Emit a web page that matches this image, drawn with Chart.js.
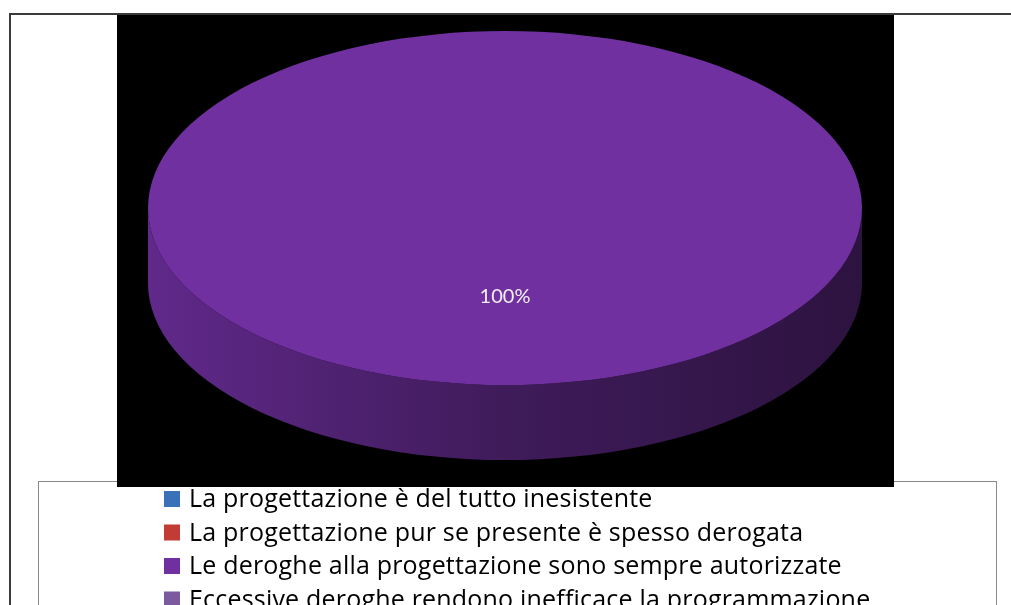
<!DOCTYPE html>
<html>
<head>
<meta charset="utf-8">
<script src="https://cdn.jsdelivr.net/npm/chart.js@4.4.0/dist/chart.umd.min.js"></script>
<style>
    html, body { margin: 0; padding: 0; background: #fff; overflow: hidden; }
    #wrap { width: 1011px; height: 605px; overflow: hidden; }
</style>
</head>
<body>
<div id="wrap"><canvas id="pieChart" width="1011" height="760"></canvas></div>
<script>
        const categories = [
            'La progettazione è del tutto inesistente',
            'La progettazione pur se presente è spesso derogata',
            'Le deroghe alla progettazione sono sempre autorizzate',
            'Eccessive deroghe rendono inefficace la programmazione'
        ];
        const percentages = [0, 0, 100, 0];
        const valueLabels = percentages.map(v => v + '%');
        const sliceColors = ['#3a72ba', '#c23b35', '#7030a0', '#7b5aa0'];

        // look of the tilted disc
        const tilt = 177 / 357;   // vertical squash of the top face
        const depth = 75;         // thickness of the side wall

        function shade(hex, f) {
            const n = parseInt(hex.slice(1), 16);
            const r = Math.round(((n >> 16) & 255) * f);
            const g = Math.round(((n >> 8) & 255) * f);
            const b = Math.round((n & 255) * f);
            return `rgb(${r}, ${g}, ${b})`;
        }

        // white page, outer frame, legend box and the black plot area
        const framePlugin = {
            id: 'frame',
            beforeDraw(chart) {
                const ctx = chart.ctx;
                ctx.save();
                ctx.fillStyle = '#fff';
                ctx.fillRect(0, 0, chart.width, chart.height);
                ctx.strokeStyle = '#3a3a3a';
                ctx.lineWidth = 2;
                ctx.strokeRect(10, 14, chart.width + 20, chart.height + 20);
                ctx.strokeStyle = '#8a8a8a';
                ctx.lineWidth = 1;
                ctx.strokeRect(38.5, 481.5, 958, chart.height);
                ctx.fillStyle = '#000';
                ctx.fillRect(117, 15, 777, 472);
                ctx.restore();
            }
        };

        // side wall under the pie, then squash the pie drawn by the library
        const discPlugin = {
            id: 'disc',
            beforeDatasetsDraw(chart) {
                const ctx = chart.ctx;
                const top = chart.chartArea.top;
                const arcs = chart.getDatasetMeta(0).data;
                ctx.save();
                arcs.forEach((arc, i) => {
                    const p = arc.getProps(['x', 'y', 'startAngle', 'endAngle', 'outerRadius']);
                    if (p.endAngle - p.startAngle <= 0) return;
                    const cy = top + (p.y - top) * tilt;
                    const ry = p.outerRadius * tilt;
                    const grad = ctx.createLinearGradient(p.x - p.outerRadius, 0, p.x + p.outerRadius, 0);
                    grad.addColorStop(0, shade(sliceColors[i], 0.86));
                    grad.addColorStop(0.5, shade(sliceColors[i], 0.56));
                    grad.addColorStop(1, shade(sliceColors[i], 0.4));
                    [-2 * Math.PI, 0, 2 * Math.PI].forEach(k => {
                        const a0 = Math.max(p.startAngle, k);
                        const a1 = Math.min(p.endAngle, k + Math.PI);
                        if (a1 <= a0) return;
                        ctx.beginPath();
                        ctx.ellipse(p.x, cy, p.outerRadius, ry, 0, a0, a1);
                        ctx.ellipse(p.x, cy + depth, p.outerRadius, ry, 0, a1, a0, true);
                        ctx.closePath();
                        ctx.fillStyle = grad;
                        ctx.fill();
                    });
                });
                ctx.restore();

                ctx.save();
                ctx.translate(0, top);
                ctx.scale(1, tilt);
                ctx.translate(0, -top);
            },
            afterDatasetsDraw(chart) {
                const ctx = chart.ctx;
                ctx.restore();

                // percentage labels
                const top = chart.chartArea.top;
                const arcs = chart.getDatasetMeta(0).data;
                ctx.save();
                ctx.font = '20px Lato';
                ctx.fillStyle = '#f4f0f7';
                ctx.textAlign = 'center';
                ctx.textBaseline = 'middle';
                arcs.forEach((arc, i) => {
                    if (!percentages[i]) return;
                    const pos = arc.tooltipPosition();
                    ctx.fillText(valueLabels[i], pos.x, top + (pos.y - top) * tilt);
                });
                ctx.restore();
            }
        };

        // legend inside the box under the plot
        const legendPlugin = {
            id: 'boxLegend',
            afterDraw(chart) {
                const ctx = chart.ctx;
                ctx.save();
                ctx.font = '25px "Open Sans"';
                ctx.letterSpacing = '0.2px';
                ctx.textBaseline = 'alphabetic';
                categories.forEach((name, i) => {
                    const y = 507 + i * 33.5;
                    ctx.fillStyle = sliceColors[i];
                    ctx.fillRect(164, y - 16, 16, 16);
                    ctx.fillStyle = '#000';
                    ctx.fillText(name, 189, y);
                });
                ctx.restore();
            }
        };

        const pieChart = new Chart(document.getElementById('pieChart'), {
            type: 'pie',
            data: {
                labels: categories,
                datasets: [{
                    data: percentages,
                    backgroundColor: sliceColors,
                    borderWidth: 0,
                    hoverBorderWidth: 0,
                    hoverOffset: 0,
                    offset: 0,
                    clip: false
                }]
            },
            options: {
                responsive: false,
                animation: false,
                events: [],
                layout: {
                    padding: { left: 148, right: 149, top: 31, bottom: 15 }
                },
                plugins: {
                    legend: { display: false },
                    tooltip: { enabled: false }
                }
            },
            plugins: [framePlugin, discPlugin, legendPlugin]
        });
</script>
</body>
</html>
